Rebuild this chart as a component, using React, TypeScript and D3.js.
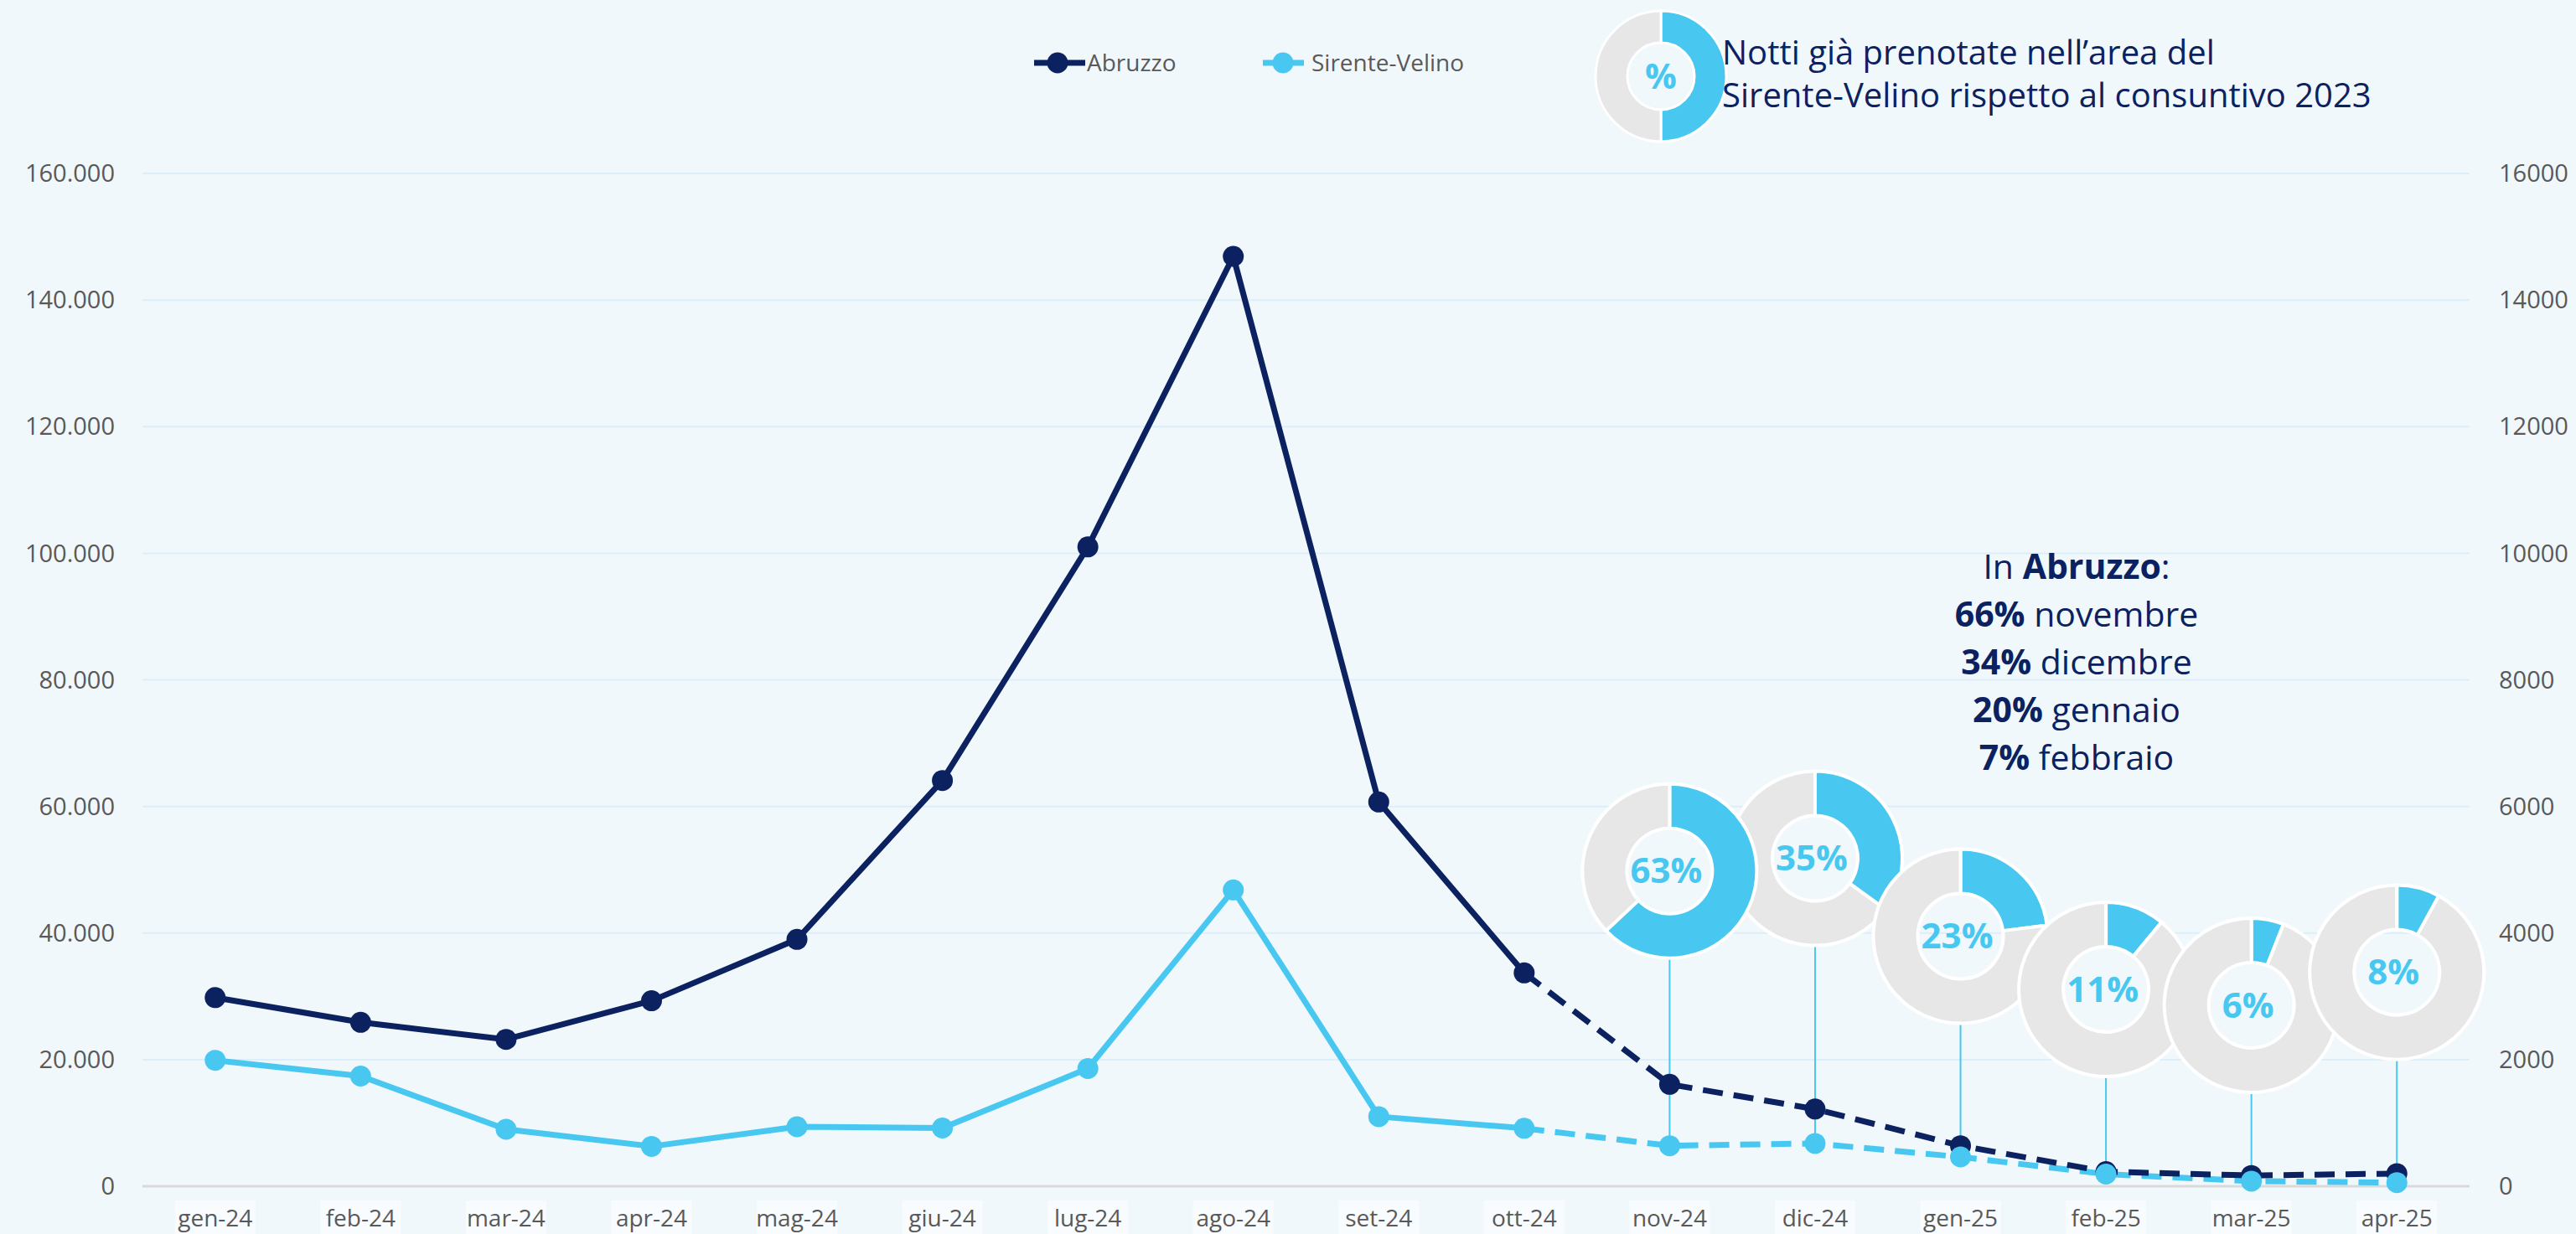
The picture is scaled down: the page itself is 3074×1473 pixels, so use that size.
import React, { useEffect } from "react";
import * as d3 from "d3";

const months = ["gen-24","feb-24","mar-24","apr-24","mag-24","giu-24","lug-24","ago-24","set-24","ott-24","nov-24","dic-24","gen-25","feb-25","mar-25","apr-25"];
const abruzzo = [29800, 25900, 23200, 29300, 39000, 64100, 101000, 146900, 60700, 33700, 16100, 12200, 6400, 2300, 1700, 2000];
const sirente = [1990, 1740, 900, 630, 940, 920, 1860, 4680, 1100, 915, 640, 676, 463, 192, 81, 57];
const leftTicks = [0, 20000, 40000, 60000, 80000, 100000, 120000, 140000, 160000];
const rightTicks = [0, 2000, 4000, 6000, 8000, 10000, 12000, 14000, 16000];
const donutMonths = ["nov-24","dic-24","gen-25","feb-25","mar-25","apr-25"];
const donutPct = [63, 35, 23, 11, 6, 8];
const donutAnchor = [4980, 5180, 3950, 3110, 2860, 3380]; // right-axis value at donut centre
const donutOrder = [1, 0, 2, 3, 4, 5];
const noteLines = [
  { bold: "", normal: "In ", bold2: "Abruzzo", tail: ":" },
  { bold: "66%", normal: " novembre", bold2: "", tail: "" },
  { bold: "34%", normal: " dicembre", bold2: "", tail: "" },
  { bold: "20%", normal: " gennaio", bold2: "", tail: "" },
  { bold: "7%", normal: " febbraio", bold2: "", tail: "" },
];
const titleLines = ["Notti già prenotate nell’area del", "Sirente-Velino rispetto al consuntivo 2023"];

const W = 3074, H = 1473;
const NAVY = "#0B2160";
const BLUE = "#48C8F0";
const GREY = "#E7E7E7";
const BG = "#F1F8FC";
const TXT = "#595959";
const FONT = "'Open Sans', sans-serif";

export default function App() {
  useEffect(() => {
    document.body.style.margin = "0";
    document.body.style.overflow = "hidden";
  }, []);

  const x = d3.scaleBand().domain(months).range([170, 2947]).padding(0);
  const cx = (m: string) => (x(m) as number) + x.bandwidth() / 2;
  const yL = d3.scaleLinear().domain([0, 160000]).range([1416, 207]);
  const yR = d3.scaleLinear().domain([0, 16000]).range([1416, 207]);
  const locale = d3.formatLocale({ decimal: ",", thousands: ".", grouping: [3], currency: ["€", ""] });
  const fmtL = locale.format(",");

  const splitIdx = 9;
  const pathSolid = (arr: number[], isA: boolean) =>
    d3.line<[number, number]>()(arr.slice(0, splitIdx + 1).map((v, i) => [cx(months[i]), (isA ? yL : yR)(v)] as [number, number])) as string;
  const pathDash = (arr: number[], isA: boolean) =>
    d3.line<[number, number]>()(arr.slice(splitIdx).map((v, i) => [cx(months[i + splitIdx]), (isA ? yL : yR)(v)] as [number, number])) as string;

  const pie = d3.pie<number>().sort(null).value((d) => d);
  const R = 104, r = 51;
  const arc = d3.arc<d3.PieArcDatum<number>>().innerRadius(r).outerRadius(R);
  const titleArc = d3.arc<d3.PieArcDatum<number>>().innerRadius(40).outerRadius(78);

  return (
    <svg width={W} height={H} style={{ display: "block", background: BG }} fontFamily={FONT}>
      <rect x={0} y={0} width={W} height={H} fill={BG} />
      {/* gridlines */}
      {leftTicks.filter((t) => t > 0).map((t) => (
        <line key={t} x1={170} x2={2947} y1={yL(t)} y2={yL(t)} stroke="#DCEEF9" strokeWidth={2} />
      ))}
      <line x1={170} x2={2947} y1={yL(0)} y2={yL(0)} stroke="#D9D9D9" strokeWidth={3} />
      {/* left ticks */}
      {leftTicks.map((t) => (
        <text key={t} x={137} y={yL(t)} dy="0.35em" textAnchor="end" fontSize={29} fill={TXT}>{fmtL(t)}</text>
      ))}
      {rightTicks.map((t) => (
        <text key={t} x={2982} y={yR(t)} dy="0.35em" textAnchor="start" fontSize={29} fill={TXT}>{t}</text>
      ))}
      {/* x labels */}
      {months.map((m) => (
        <g key={m}>
          <rect x={cx(m) - 48} y={1433} width={96} height={40} fill="#FFFFFF" opacity={0.5} />
          <text x={cx(m)} y={1454} dy="0.35em" textAnchor="middle" fontSize={28} fill={TXT}>{m}</text>
        </g>
      ))}
      {/* leader lines */}
      {donutMonths.map((m, i) => {
        const idx = months.indexOf(m);
        return <line key={m} x1={cx(m)} x2={cx(m)} y1={yR(donutAnchor[i]) + R - 4} y2={yR(sirente[idx])} stroke={BLUE} strokeWidth={2} />;
      })}
      {/* series */}
      <path d={pathSolid(sirente, false)} fill="none" stroke={BLUE} strokeWidth={7} strokeLinejoin="round" />
      <path d={pathDash(sirente, false)} fill="none" stroke={BLUE} strokeWidth={7} strokeDasharray="24 13" />
      <path d={pathSolid(abruzzo, true)} fill="none" stroke={NAVY} strokeWidth={7} strokeLinejoin="round" />
      <path d={pathDash(abruzzo, true)} fill="none" stroke={NAVY} strokeWidth={7} strokeDasharray="24 13" />
      {abruzzo.map((v, i) => (
        <circle key={"a" + i} cx={cx(months[i])} cy={yL(v)} r={12.5} fill={NAVY} />
      ))}
      {sirente.map((v, i) => (
        <circle key={"s" + i} cx={cx(months[i])} cy={yR(v)} r={12.5} fill={BLUE} />
      ))}
      {/* donuts */}
      {donutOrder.map((k) => {
        const m = donutMonths[k];
        const p = donutPct[k];
        const arcs = pie([p, 100 - p]);
        return (
          <g key={m} transform={`translate(${cx(m)},${yR(donutAnchor[k])})`}>
            {arcs.map((a, j) => (
              <path key={j} d={arc(a) as string} fill={j === 0 ? BLUE : GREY} stroke="#FFFFFF" strokeWidth={4} />
            ))}
            <text x={-4} y={0} dy="0.35em" textAnchor="middle" fontSize={42} fontWeight={700} fill={BLUE}>{p}%</text>
          </g>
        );
      })}
      {/* annotation */}
      {noteLines.map((l, i) => (
        <text key={i} x={2478} y={691 + i * 57} textAnchor="middle" fontSize={41} fill={NAVY}>
          {l.bold && <tspan fontWeight={700}>{l.bold}</tspan>}
          <tspan>{l.normal}</tspan>
          {l.bold2 && <tspan fontWeight={700}>{l.bold2}</tspan>}
          {l.tail && <tspan>{l.tail}</tspan>}
        </text>
      ))}
      {/* legend */}
      <line x1={1234} x2={1295} y1={75} y2={75} stroke={NAVY} strokeWidth={7} />
      <circle cx={1262} cy={75} r={12.5} fill={NAVY} />
      <text x={1297} y={75} dy="0.35em" fontSize={28} fill={TXT}>Abruzzo</text>
      <line x1={1507} x2={1556} y1={75} y2={75} stroke={BLUE} strokeWidth={7} />
      <circle cx={1531} cy={75} r={12.5} fill={BLUE} />
      <text x={1565} y={75} dy="0.35em" fontSize={28} fill={TXT}>Sirente-Velino</text>
      {/* title donut */}
      <g transform="translate(1982,91)">
        {pie([50, 50]).map((a, j) => (
          <path key={j} d={titleArc(a) as string} fill={j === 0 ? BLUE : GREY} stroke="#FFFFFF" strokeWidth={3} />
        ))}
        <text x={0} y={0} dy="0.35em" textAnchor="middle" fontSize={42} fontWeight={700} fill={BLUE}>%</text>
      </g>
      {titleLines.map((t, i) => (
        <text key={i} x={2055} y={77 + i * 51} fontSize={40} fill={NAVY}>{t}</text>
      ))}
    </svg>
  );
}
